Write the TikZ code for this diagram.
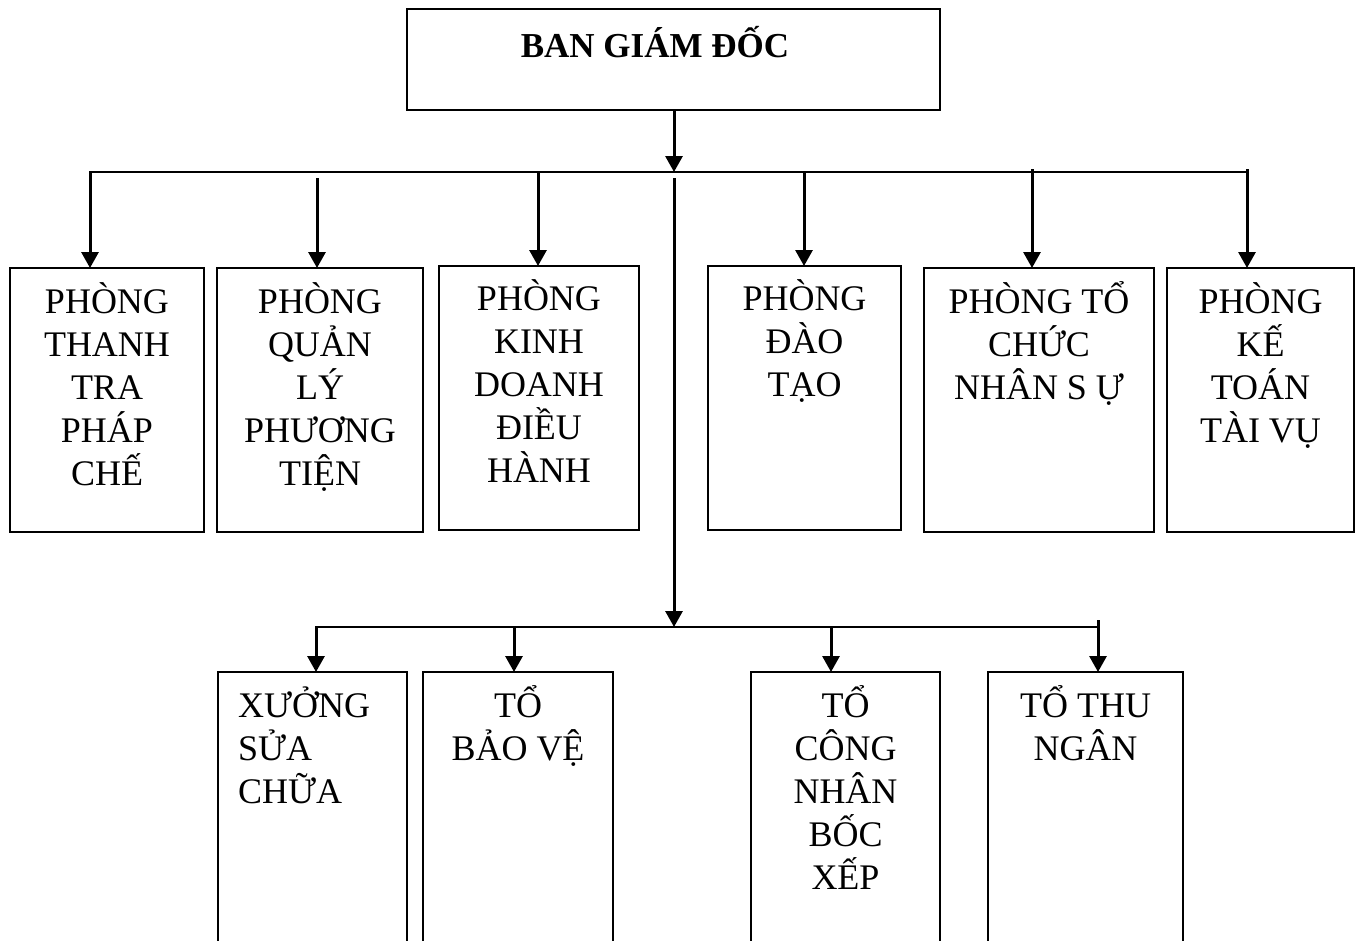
\documentclass[tikz,border=0pt]{standalone}
\usepackage{fontspec}
\setmainfont{Liberation Serif}
\usetikzlibrary{arrows.meta}
% tall invisible rule that fixes the height of each label's first line
\newcommand\lineone{\rule{0pt}{36pt}}
\begin{document}
\begin{tikzpicture}[x=1pt,y=-1pt,
  box/.style={draw, line width=2.2pt, inner sep=0pt, outer sep=0pt},
  lbl/.style={font=\fontsize{36}{43}\selectfont, inner sep=0pt, align=center, anchor=north},
  lblL/.style={lbl, align=left, anchor=north west},
  bus/.style={line width=2.2pt, line cap=rect},
  arr/.style={line width=3pt, -{Triangle[width=17pt,length=16pt]}}]
\useasboundingbox (0,0) rectangle (1362,940);
\clip (0,0) rectangle (1362,940);

% board of directors
\node[box, minimum width=533pt, minimum height=101pt] (gd) at (673.5,59.5) {};
\node[font=\bfseries\fontsize{35}{42}\selectfont, inner sep=0pt, anchor=base] (gdt) at (655,57) {BAN GIÁM ĐỐC};

% departments
\node[box, minimum width=194pt, minimum height=264pt] (b1) at (107,400) {};
\node[box, minimum width=206pt, minimum height=264pt] (b2) at (320,400) {};
\node[box, minimum width=200pt, minimum height=264pt] (b3) at (539,398) {};
\node[box, minimum width=193pt, minimum height=264pt] (b4) at (804.5,398) {};
\node[box, minimum width=230pt, minimum height=264pt] (b5) at (1039,400) {};
\node[box, minimum width=187pt, minimum height=264pt] (b6) at (1260.5,400) {};

\node[lbl] (t1) at ([yshift=-9pt]b1.north) {\lineone PHÒNG\\THANH\\TRA\\PHÁP\\CHẾ};
\node[lbl] (t2) at ([yshift=-9pt]b2.north) {\lineone PHÒNG\\QUẢN\\LÝ\\PHƯƠNG\\TIỆN};
\node[lbl] (t3) at ([yshift=-8pt]b3.north) {\lineone PHÒNG\\KINH\\DOANH\\ĐIỀU\\HÀNH};
\node[lbl] (t4) at ([yshift=-8pt]b4.north) {\lineone PHÒNG\\ĐÀO\\TẠO};
\node[lbl] (t5) at ([yshift=-9pt]b5.north) {\lineone PHÒNG TỔ\\CHỨC\\NHÂN S Ự};
\node[lbl] (t6) at ([yshift=-9pt]b6.north) {\lineone PHÒNG\\KẾ\\TOÁN\\TÀI VỤ};

% teams
\node[box, minimum width=189pt, minimum height=328pt] (c1) at (312.5,836) {};
\node[box, minimum width=190pt, minimum height=328pt] (c2) at (518,836) {};
\node[box, minimum width=189pt, minimum height=328pt] (c3) at (845.5,836) {};
\node[box, minimum width=195pt, minimum height=328pt] (c4) at (1085.5,836) {};

\node[lblL] (u1) at ([xshift=20pt,yshift=-9pt]c1.north west) {\lineone XƯỞNG\\SỬA\\CHỮA};
\node[lbl] (u2) at ([yshift=-9pt]c2.north) {\lineone TỔ\\BẢO VỆ};
\node[lbl] (u3) at ([yshift=-9pt]c3.north) {\lineone TỔ\\CÔNG\\NHÂN\\BỐC\\XẾP};
\node[lbl] (u4) at ([yshift=-9pt]c4.north) {\lineone TỔ THU\\NGÂN};

% upper distribution line
\coordinate (hub) at (674,172);
\coordinate (busL) at (90,172);
\coordinate (busR) at (1247,172);
\coordinate (d2) at (317,178);
\coordinate (d3) at (538,172);
\coordinate (spine) at (674,178);
\coordinate (d4) at (804,172);
\coordinate (d5) at (1032,169);
\coordinate (d6) at (1247,169);

\draw[bus] (busL) -- (busR);
\draw[arr] (hub |- gd.south) -- (hub);
\draw[arr] (busL) -- (busL |- b1.north);
\draw[arr] (d2) -- (d2 |- b2.north);
\draw[arr] (d3) -- (d3 |- b3.north);
\draw[arr] (d4) -- (d4 |- b4.north);
\draw[arr] (d5) -- (d5 |- b5.north);
\draw[arr] (d6) -- (d6 |- b6.north);

% lower distribution line
\coordinate (hub2) at (674,627);
\coordinate (lowL) at (316,627);
\coordinate (lowR) at (1098,627);
\coordinate (e2) at (514,627);
\coordinate (e3) at (831,627);
\coordinate (e4) at (1098,620);

\draw[arr] (spine) -- (hub2);
\draw[bus] (lowL) -- (lowR);
\draw[arr] (lowL) -- (lowL |- c1.north);
\draw[arr] (e2) -- (e2 |- c2.north);
\draw[arr] (e3) -- (e3 |- c3.north);
\draw[arr] (e4) -- (e4 |- c4.north);
\end{tikzpicture}
\end{document}
